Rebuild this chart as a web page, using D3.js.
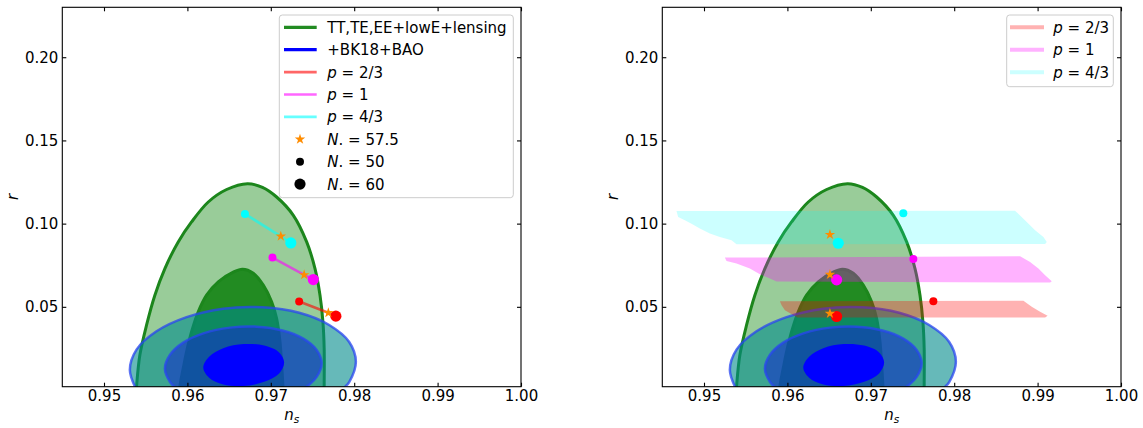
<!DOCTYPE html>
<html>
<head>
<meta charset="utf-8">
<script src="https://cdn.jsdelivr.net/npm/d3@7/dist/d3.min.js"></script>
<style>
  html, body { margin: 0; padding: 0; background: #fff; }
  svg { display: block; font-family: "DejaVu Sans", sans-serif; }
  .tick text { font-size: 15px; fill: #000; font-family: "DejaVu Sans", sans-serif; }
</style>
</head>
<body>
<svg id="fig" width="1143" height="428"></svg>
<script>
// ---- axis ticks ----
const nsTicks = [0.95, 0.96, 0.97, 0.98, 0.99, 1.00];
const rTicks = [0.05, 0.10, 0.15, 0.20];
const nsDomain = [0.945, 1.0];
const rDomain = [0.002, 0.23];

// ---- Planck TT,TE,EE+lowE+lensing contours (ns, r), open at r = 0 ----
const planck95 = [[0.9538,-0.006],[0.9539,0.002],[0.9543,0.021],[0.9551,0.039],[0.9561,0.057],
  [0.9573,0.073],[0.9589,0.089],[0.9605,0.101],[0.9625,0.113],[0.9647,0.1205],[0.9672,0.1240],
  [0.9690,0.1218],[0.9707,0.116],[0.9727,0.105],[0.9743,0.089],[0.9753,0.073],[0.9759,0.057],
  [0.97625,0.041],[0.9764,0.025],[0.9764,0.002],[0.9764,-0.006]];
const planck68 = [[0.9591,-0.006],[0.9591,0.002],[0.9595,0.013],[0.9599,0.023],[0.9605,0.035],
  [0.9613,0.047],[0.9623,0.057],[0.9637,0.065],[0.9655,0.0708],[0.9666,0.0726],[0.9679,0.0702],
  [0.9691,0.063],[0.9701,0.053],[0.9707,0.043],[0.9711,0.029],[0.9713,0.015],[0.97145,0.002],
  [0.97145,-0.006]];

// ---- +BK18+BAO contours (outer two cut by the r = 0 edge, core closed) ----
const bk95 = [[0.9539,0.0001],[0.9531,0.0120],[0.9539,0.0243],[0.9563,0.0353],[0.9599,0.0438],
  [0.9643,0.0489],[0.9690,0.0497],[0.9734,0.0464],[0.9770,0.0391],[0.9794,0.0289],
  [0.9802,0.0170],[0.9794,0.0047],[0.9784,-0.0010],[0.9784,-0.008],[0.9539,-0.008]];
const bk68 = [[0.9595,-0.0019],[0.9586,0.0012],[0.9579,0.0049],[0.9573,0.0129],[0.9579,0.0211],
  [0.9595,0.0285],[0.9620,0.0342],[0.9651,0.0375],[0.9683,0.0381],[0.9714,0.0358],
  [0.9739,0.0309],[0.9755,0.0241],[0.9761,0.0161],[0.9755,0.0079],[0.9739,0.0005],
  [0.9727,-0.0027],[0.9727,-0.008],[0.9595,-0.008]];
const bkCore = [[0.9716,0.0165],[0.9710,0.0226],[0.9692,0.0267],[0.96675,0.0276],[0.9643,0.0251],
  [0.9626,0.0200],[0.9619,0.0135],[0.9626,0.0074],[0.9643,0.0033],[0.96675,0.0024],
  [0.9692,0.0049],[0.9710,0.0100]];

// ---- model predictions, left panel: N = 50, N = 57.5, N = 60 ----
const leftP23 = [[0.9734,0.0532],[0.9769,0.0464],[0.9778,0.0444]];
const leftP1  = [[0.9702,0.0796],[0.9740,0.0692],[0.9751,0.0664]];
const leftP43 = [[0.9669,0.1058],[0.9712,0.0924],[0.9724,0.0884]];

// ---- model predictions, right panel: N = 50, N = 57.5, N = 60 ----
const rightP23 = [[0.9775,0.0534],[0.9651,0.0460],[0.9659,0.0442]];
const rightP1  = [[0.9751,0.0788],[0.9651,0.0694],[0.9659,0.0662]];
const rightP43 = [[0.9739,0.1062],[0.9651,0.0934],[0.9661,0.0882]];

// ---- model bands, right panel ----
const bandP43 = [[0.9467,0.1076],[0.9873,0.1078],[0.9887,0.101],[0.9897,0.096],[0.9907,0.092],
  [0.9911,0.089],[0.9909,0.0878],[0.9539,0.0876],[0.9533,0.090],[0.9519,0.092],[0.9507,0.094],
  [0.9495,0.097],[0.9485,0.100],[0.9477,0.102],[0.9469,0.104]];
const bandP1 = [[0.9525,0.0796],[0.9879,0.0804],[0.9891,0.077],[0.9901,0.073],[0.9909,0.069],
  [0.9917,0.0654],[0.9915,0.0646],[0.9587,0.0652],[0.9579,0.067],[0.9567,0.0696],[0.9555,0.073],
  [0.9539,0.076],[0.9527,0.0776]];
const bandP23 = [[0.9591,0.0534],[0.9883,0.0536],[0.9893,0.050],[0.9903,0.047],[0.9912,0.0446],
  [0.9909,0.0436],[0.9612,0.0436],[0.9597,0.048],[0.9593,0.051]];

const legendLeft = ["TT,TE,EE+lowE+lensing", "+BK18+BAO", "2/3", "1", "4/3", "57.5", "50", "60"];
const legendRight = ["2/3", "1", "4/3"];

const svg = d3.select("#fig");
const H = { top: 7.3, bottom: 386.7 };
const panelW = 458.7;

function drawPanel(x0, id, drawModels) {
  const x = d3.scaleLinear().domain(nsDomain).range([x0, x0 + panelW]);
  const y = d3.scaleLinear().domain(rDomain).range([H.bottom, H.top]);

  svg.append("clipPath").attr("id", id)
    .append("rect").attr("x", x0).attr("y", H.top)
    .attr("width", panelW).attr("height", H.bottom - H.top);

  const g = svg.append("g").attr("clip-path", `url(#${id})`);
  const openLine = d3.line().x(d => x(d[0])).y(d => y(d[1])).curve(d3.curveCatmullRom.alpha(0.5));
  const closedLine = d3.line().x(d => x(d[0])).y(d => y(d[1])).curve(d3.curveCatmullRomClosed.alpha(0.5));
  const openPath = pts => openLine(pts) + "Z";

  // Planck contours
  g.append("path").attr("d", openPath(planck95)).attr("fill", "rgb(153,204,153)");
  g.append("path").attr("d", openPath(planck68)).attr("fill", "#228b22");
  g.append("path").attr("d", openPath(planck95)).attr("fill", "none")
    .attr("stroke", "#1c861c").attr("stroke-width", 3);
  g.append("path").attr("d", openPath(planck68)).attr("fill", "none")
    .attr("stroke", "#1c861c").attr("stroke-width", 3);

  // BK18+BAO contours
  g.append("path").attr("d", openPath(bk95)).attr("fill", "rgb(0,139,139)").attr("fill-opacity", 0.6)
    .attr("stroke", "rgb(40,70,240)").attr("stroke-opacity", 0.75).attr("stroke-width", 2.5);
  g.append("path").attr("d", openPath(bk68)).attr("fill", "rgb(20,50,200)").attr("fill-opacity", 0.62)
    .attr("stroke", "rgb(40,70,240)").attr("stroke-opacity", 0.75).attr("stroke-width", 2.5);
  g.append("path").attr("d", closedLine(bkCore)).attr("fill", "#0000ff");

  drawModels(g, x, y);

  // axes, ticks pointing inward on all four sides
  const fmt = d3.format(".2f");
  const ax = svg.append("g");
  ax.append("g").attr("transform", `translate(0,${H.bottom})`)
    .call(d3.axisBottom(x).tickValues(nsTicks).tickFormat(fmt).tickSizeInner(-4).tickSizeOuter(0).tickPadding(4));
  ax.append("g").attr("transform", `translate(0,${H.top})`)
    .call(d3.axisTop(x).tickValues(nsTicks).tickFormat("").tickSizeInner(-4).tickSizeOuter(0));
  ax.append("g").attr("transform", `translate(${x0},0)`)
    .call(d3.axisLeft(y).tickValues(rTicks).tickFormat(fmt).tickSizeInner(-4).tickSizeOuter(0).tickPadding(4));
  ax.append("g").attr("transform", `translate(${x0 + panelW},0)`)
    .call(d3.axisRight(y).tickValues(rTicks).tickFormat("").tickSizeInner(-4).tickSizeOuter(0));
  ax.selectAll(".domain").remove();
  ax.selectAll(".tick line").attr("stroke", "#000").attr("stroke-width", 1.1);
  ax.append("rect").attr("x", x0).attr("y", H.top).attr("width", panelW).attr("height", H.bottom - H.top)
    .attr("fill", "none").attr("stroke", "#000").attr("stroke-width", 1.1);

  // axis labels
  const xl = svg.append("text").attr("x", x0 + panelW / 2).attr("y", 419.7)
    .attr("text-anchor", "middle").attr("font-size", 15);
  xl.append("tspan").attr("font-style", "italic").text("n");
  xl.append("tspan").attr("font-style", "italic").attr("font-size", 10.5).attr("dy", 3.2).text("s");

  svg.append("text").attr("transform", `translate(${x0 - 44},${(H.top + H.bottom) / 2}) rotate(-90)`)
    .attr("text-anchor", "middle").attr("font-size", 15).attr("font-style", "italic").text("r");

  return { x, y };
}

const star = d3.symbol().type(d3.symbolStar).size(34);

function dots(g, x, y, sets, colors) {
  sets.forEach((s, i) => {
    g.append("circle").attr("cx", x(s[0][0])).attr("cy", y(s[0][1])).attr("r", 4).attr("fill", colors[i]);
    g.append("circle").attr("cx", x(s[2][0])).attr("cy", y(s[2][1])).attr("r", 5.6).attr("fill", colors[i]);
  });
  sets.forEach(s => {
    g.append("path").attr("d", star()).attr("transform", `translate(${x(s[1][0])},${y(s[1][1])})`)
      .attr("fill", "#ff8c00");
  });
}

const pColors = ["#ff0000", "#ff00ff", "#00ffff"];

// left panel
drawPanel(62.3, "clipL", (g, x, y) => {
  const line = d3.line().x(d => x(d[0])).y(d => y(d[1]));
  [leftP23, leftP1, leftP43].forEach((s, i) => {
    g.append("path").attr("d", line(s)).attr("fill", "none")
      .attr("stroke", pColors[i]).attr("stroke-opacity", 0.6).attr("stroke-width", 2.6);
  });
  dots(g, x, y, [leftP23, leftP1, leftP43], pColors);
});

// right panel
drawPanel(662.3, "clipR", (g, x, y) => {
  const poly = d3.line().x(d => x(d[0])).y(d => y(d[1]));
  g.append("path").attr("d", poly(bandP43) + "Z").attr("fill", "#00ffff").attr("fill-opacity", 0.2);
  g.append("path").attr("d", poly(bandP1) + "Z").attr("fill", "#ff00ff").attr("fill-opacity", 0.3);
  g.append("path").attr("d", poly(bandP23) + "Z").attr("fill", "#ff0000").attr("fill-opacity", 0.3);
  dots(g, x, y, [rightP23, rightP1, rightP43], pColors);
});

// ---- legends ----
function pLabel(t, x, yc, val) {
  const tx = t.append("text").attr("x", x).attr("y", yc).attr("dy", "0.36em").attr("font-size", 15);
  tx.append("tspan").attr("font-style", "italic").text("p");
  tx.append("tspan").text(" = " + val);
}

const L = svg.append("g");
L.append("rect").attr("x", 279.3).attr("y", 15).attr("width", 234).attr("height", 182.7)
  .attr("rx", 3).attr("fill", "#fff").attr("fill-opacity", 0.8).attr("stroke", "#cccccc").attr("stroke-width", 1);
const rowY = i => 27.3 + i * 22.4;
const lineRows = [
  { c: "#228b22", o: 1, w: 3.3 }, { c: "#0000ff", o: 1, w: 3.3 },
  { c: "#ff0000", o: 0.6, w: 2.6 }, { c: "#ff00ff", o: 0.6, w: 2.6 }, { c: "#00ffff", o: 0.6, w: 2.6 }
];
lineRows.forEach((r, i) => {
  L.append("line").attr("x1", 284).attr("x2", 316.7).attr("y1", rowY(i)).attr("y2", rowY(i))
    .attr("stroke", r.c).attr("stroke-opacity", r.o).attr("stroke-width", r.w);
});
L.append("text").attr("x", 327.3).attr("y", rowY(0)).attr("dy", "0.36em").attr("font-size", 15).text(legendLeft[0]);
L.append("text").attr("x", 327.3).attr("y", rowY(1)).attr("dy", "0.36em").attr("font-size", 15).text(legendLeft[1]);
[2, 3, 4].forEach(i => pLabel(L, 327.3, rowY(i), legendLeft[i]));
L.append("path").attr("d", star()).attr("transform", `translate(300,${rowY(5)})`).attr("fill", "#ff8c00");
L.append("circle").attr("cx", 300).attr("cy", rowY(6)).attr("r", 4).attr("fill", "#000");
L.append("circle").attr("cx", 300).attr("cy", rowY(7)).attr("r", 5.6).attr("fill", "#000");
[5, 6, 7].forEach(i => {
  const tx = L.append("text").attr("x", 327.3).attr("y", rowY(i)).attr("dy", "0.36em").attr("font-size", 15);
  tx.append("tspan").attr("font-style", "italic").text("N");
  tx.append("tspan").text(". = " + legendLeft[i]);
});

const R = svg.append("g");
R.append("rect").attr("x", 1006.7).attr("y", 15).attr("width", 106.6).attr("height", 71.7)
  .attr("rx", 3).attr("fill", "#fff").attr("fill-opacity", 0.8).attr("stroke", "#cccccc").attr("stroke-width", 1);
const rRow = i => 27.3 + i * 22.5;
const bandLegend = [{ c: "#ff0000", o: 0.3 }, { c: "#ff00ff", o: 0.3 }, { c: "#00ffff", o: 0.2 }];
bandLegend.forEach((b, i) => {
  R.append("line").attr("x1", 1010).attr("x2", 1044).attr("y1", rRow(i)).attr("y2", rRow(i))
    .attr("stroke", b.c).attr("stroke-opacity", b.o).attr("stroke-width", 4);
  pLabel(R, 1053.3, rRow(i), legendRight[i]);
});
</script>
</body>
</html>
